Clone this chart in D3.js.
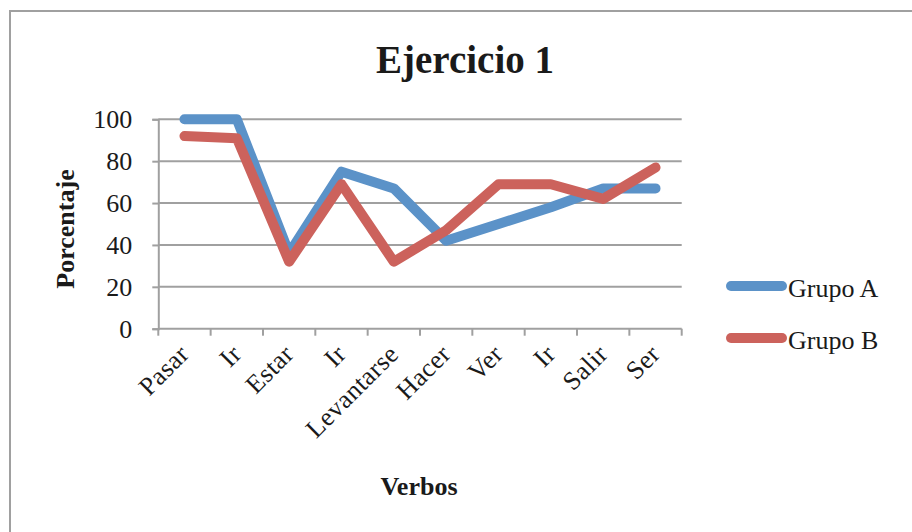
<!DOCTYPE html>
<html>
<head>
<meta charset="utf-8">
<script src="https://cdn.jsdelivr.net/npm/d3@7"></script>
<style>
  html, body { margin: 0; padding: 0; background: #fff; }
  svg { display: block; }
  text { font-family: "Liberation Serif", "Times New Roman", serif; fill: #1a1a1a; }
</style>
</head>
<body>
<svg id="chart" width="912" height="532"></svg>
<script>
// Verbs on the x axis and the percentage obtained by each group
const verbos = ["Pasar", "Ir", "Estar", "Ir", "Levantarse", "Hacer", "Ver", "Ir", "Salir", "Ser"];
const grupoA = [100, 100, 36, 75, 67, 42, 50, 58, 67, 67];
const grupoB = [92, 91, 32, 69, 32, 47, 69, 69, 62, 77];
const yTicks = [0, 20, 40, 60, 80, 100];
const seriesNames = ["Grupo A", "Grupo B"];
const seriesColors = ["#5b92c8", "#cc625c"];

const svg = d3.select("#chart");
const W = 912, H = 532;
const plot = { left: 158.3, right: 681.7, top: 119.3, bottom: 328.7 };
const gridColor = "#a0a0a0";

// Outer chart frame
svg.append("rect")
  .attr("x", 10).attr("y", 11)
  .attr("width", W + 20).attr("height", H + 20)
  .attr("fill", "none").attr("stroke", gridColor).attr("stroke-width", 2);

const x = d3.scaleBand().domain(d3.range(verbos.length))
  .range([plot.left, plot.right]).paddingInner(0).paddingOuter(0);
const y = d3.scaleLinear().domain([0, 100]).range([plot.bottom, plot.top]);

// Horizontal gridlines
svg.append("g").selectAll("line").data(yTicks.filter(d => d > 0)).join("line")
  .attr("x1", plot.left).attr("x2", plot.right)
  .attr("y1", d => y(d)).attr("y2", d => y(d))
  .attr("stroke", gridColor).attr("stroke-width", 2);

// Y axis
const yAxis = svg.append("g")
  .attr("transform", `translate(${plot.left},0)`)
  .call(d3.axisLeft(y).tickValues(yTicks).tickSize(6).tickPadding(20));
yAxis.select(".domain").attr("stroke", gridColor).attr("stroke-width", 2);
yAxis.selectAll(".tick line").attr("stroke", gridColor).attr("stroke-width", 2);
yAxis.selectAll(".tick text")
  .attr("font-family", "Liberation Serif, serif")
  .attr("font-size", 26).attr("fill", "#1a1a1a");

// X axis with ticks at category boundaries
const bounds = d3.range(verbos.length + 1).map(i => plot.left + i * x.bandwidth());
const xAxisG = svg.append("g");
xAxisG.append("line")
  .attr("x1", plot.left).attr("x2", plot.right)
  .attr("y1", plot.bottom).attr("y2", plot.bottom)
  .attr("stroke", gridColor).attr("stroke-width", 2);
xAxisG.selectAll("line.tk").data(bounds).join("line").attr("class", "tk")
  .attr("x1", d => d).attr("x2", d => d)
  .attr("y1", plot.bottom).attr("y2", plot.bottom + 7)
  .attr("stroke", gridColor).attr("stroke-width", 2);

// Rotated category labels
xAxisG.selectAll("text").data(verbos).join("text")
  .attr("transform", (d, i) => {
    const cx = x(i) + x.bandwidth() / 2 + 6;
    const cy = plot.bottom + 27;
    return `translate(${cx},${cy}) rotate(-45)`;
  })
  .attr("text-anchor", "end")
  .attr("font-size", 26)
  .attr("letter-spacing", 0.4)
  .text(d => d);

// Series lines
const line = d3.line()
  .x((d, i) => x(i) + x.bandwidth() / 2)
  .y(d => y(d));
[grupoA, grupoB].forEach((vals, k) => {
  svg.append("path")
    .datum(vals)
    .attr("d", line)
    .attr("fill", "none")
    .attr("stroke", seriesColors[k])
    .attr("stroke-width", 10)
    .attr("stroke-linejoin", "round")
    .attr("stroke-linecap", "round");
});

// Title
svg.append("text")
  .attr("x", 465).attr("y", 73)
  .attr("text-anchor", "middle")
  .attr("font-size", 39).attr("font-weight", "bold")
  .text("Ejercicio 1");

// Axis titles
svg.append("text")
  .attr("transform", "translate(74,229) rotate(-90)")
  .attr("text-anchor", "middle")
  .attr("font-size", 26).attr("font-weight", "bold")
  .text("Porcentaje");

svg.append("text")
  .attr("x", 419).attr("y", 495)
  .attr("text-anchor", "middle")
  .attr("font-size", 26).attr("font-weight", "bold")
  .text("Verbos");

// Legend
const legend = svg.append("g");
seriesNames.forEach((name, k) => {
  const ly = 286 + k * 52;
  legend.append("line")
    .attr("x1", 731).attr("x2", 782)
    .attr("y1", ly).attr("y2", ly)
    .attr("stroke", seriesColors[k]).attr("stroke-width", 10)
    .attr("stroke-linecap", "round");
  legend.append("text")
    .attr("x", 788).attr("y", ly + 11)
    .attr("font-size", 26)
    .text(name);
});
</script>
</body>
</html>
